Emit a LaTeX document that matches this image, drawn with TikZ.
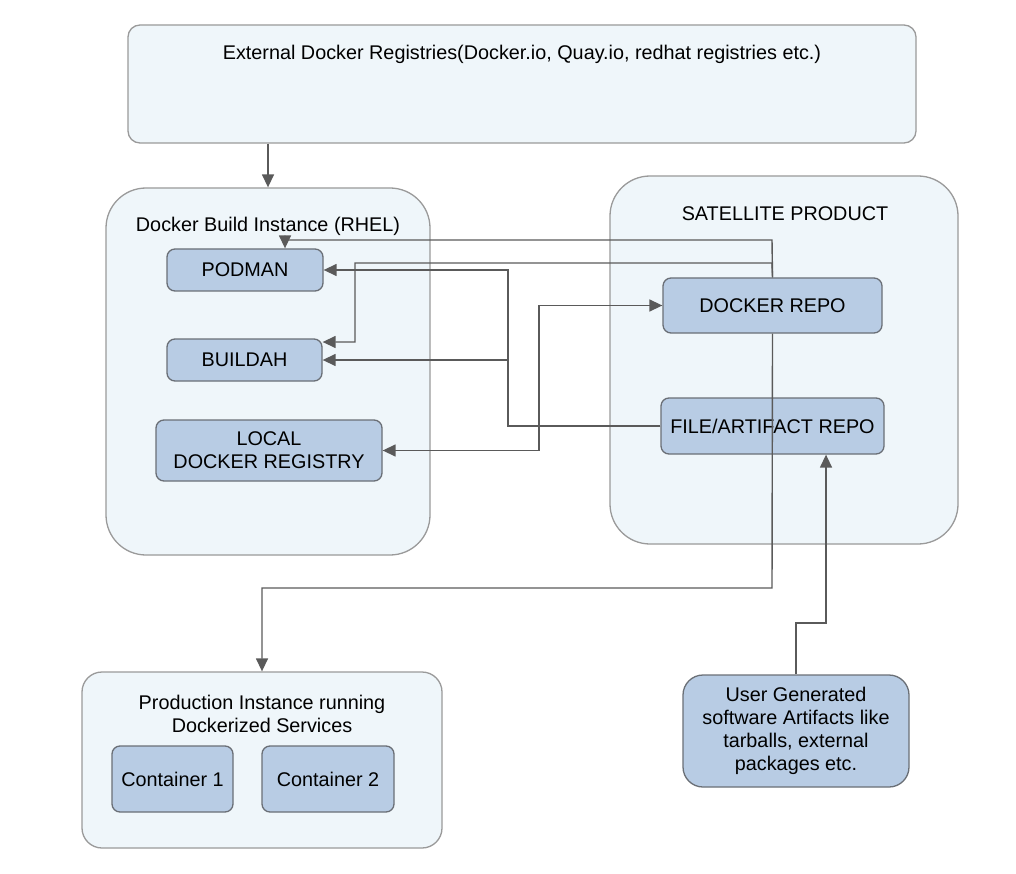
\documentclass[tikz,border=0pt]{standalone}
\usepackage{fontspec}
\setmainfont{Liberation Sans}
\usetikzlibrary{arrows.meta}
\definecolor{bgblue}{HTML}{EFF6FA}
\definecolor{boxblue}{HTML}{B8CCE4}
\definecolor{boxedge}{HTML}{6A6F76}
\definecolor{outeredge}{HTML}{9A9A9A}
\definecolor{linegray}{HTML}{5A5A5A}
\begin{document}
\begin{tikzpicture}[x=1pt,y=-1pt,font=\fontsize{19.8}{23}\selectfont]

        % 定义样式
        \tikzstyle{outerbox} = [rectangle, rounded corners=40pt, inner sep=0pt, draw=outeredge, fill=bgblue, line width=1.3pt]
        \tikzstyle{innerbox} = [rectangle, rounded corners=8pt, inner sep=0pt, align=center, draw=boxedge, fill=boxblue, line width=1.3pt]
        \tikzstyle{arrow} = [line width=1.4pt, draw=linegray, -{Triangle[length=13pt,width=12pt]}]
        \tikzstyle{dblarrow} = [line width=1.4pt, draw=linegray, {Triangle[length=13pt,width=12pt]}-{Triangle[length=13pt,width=12pt]}]

        \useasboundingbox (0,0) rectangle (1016,874);

        % 外框
        \node (external) [outerbox, rounded corners=12pt, minimum width=788pt, minimum height=118pt] at (522,84) {};
        \node (buildinst) [outerbox, minimum width=324pt, minimum height=367pt] at (268,371.5) {};
        \node (satellite) [outerbox, minimum width=348pt, minimum height=368pt] at (784,360) {};
        \node (prodinst) [outerbox, rounded corners=20pt, minimum width=360pt, minimum height=176pt] at (262,760) {};

        \node (extlbl) at (522,54) {External Docker Registries(Docker.io, Quay.io, redhat registries etc.)};
        \node (buildlbl) at (268,226) {Docker Build Instance (RHEL)};
        \node (satlbl) at (785,214) {SATELLITE PRODUCT};
        \node (prodlbl) [align=center] at (262,714) {Production Instance running\\Dockerized Services};

        % 内部节点
        \node (podman) [innerbox, minimum width=156pt, minimum height=42pt] at (245,270) {PODMAN};
        \node (buildah) [innerbox, minimum width=155pt, minimum height=42pt] at (244.5,360) {BUILDAH};
        \node (localreg) [innerbox, minimum width=226pt, minimum height=61pt] at (269,450.5) {LOCAL\\DOCKER REGISTRY};
        \node (dockerrepo) [innerbox, minimum width=219pt, minimum height=55pt] at (772.5,305.5) {DOCKER REPO};
        \node (filerepo) [innerbox, minimum width=223pt, minimum height=56pt] at (772.5,426) {FILE/ARTIFACT REPO};
        \node (cont1) [innerbox, minimum width=121pt, minimum height=66pt] at (172.5,779) {Container 1};
        \node (cont2) [innerbox, minimum width=132pt, minimum height=66pt] at (328,779) {Container 2};
        \node (usergen) [innerbox, rounded corners=20pt, minimum width=226pt, minimum height=112pt] at (796,731) {User Generated\\software Artifacts like\\tarballs, external\\packages etc.};

        % 连接节点
        \draw [arrow] (external.south -| buildinst.north) -- (buildinst.north);
        \draw [arrow] (dockerrepo.north) -- (772,240) -- (285,240) -- ([xshift=40pt]podman.north);
        \draw [arrow] (dockerrepo.north) -- (772,263) -- (355,263) -- (355,342) -- ([yshift=18pt]buildah.east);
        \draw [arrow] (filerepo.west) -| (508,270) -- (podman.east);
        \draw [arrow] (filerepo.west) -| (508,360) -- (buildah.east);
        \draw [dblarrow] (localreg.east) -| (539,305.5) -- (dockerrepo.west);
        \draw [arrow] (dockerrepo.south) -- (772,588) -| (prodinst.north);
        \draw [arrow] (usergen.north) |- (826,623) -- ([xshift=53.5pt]filerepo.south);

    \end{tikzpicture}
\end{document}
